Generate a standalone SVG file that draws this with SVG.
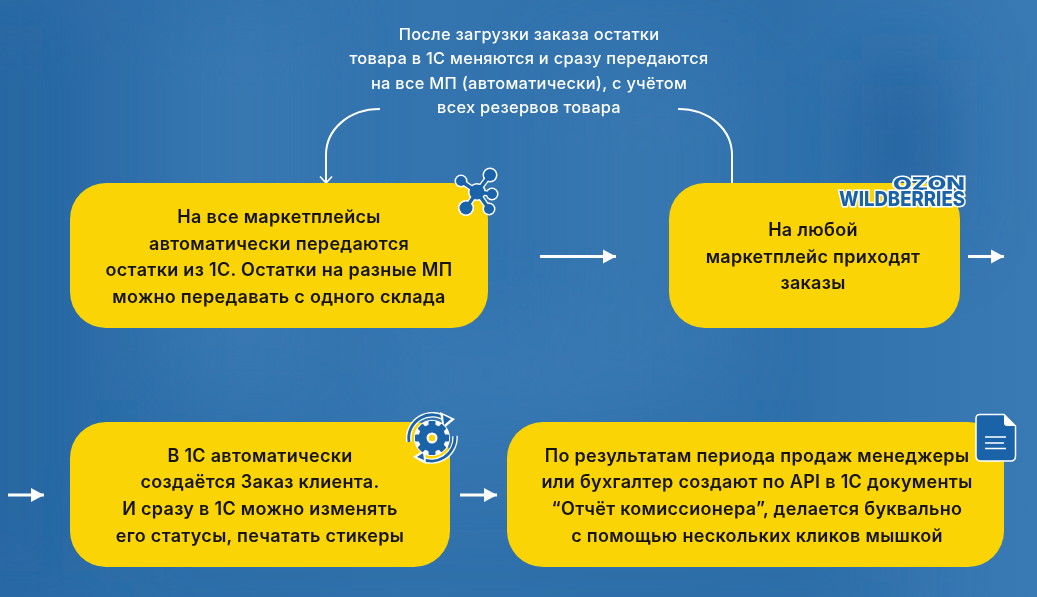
<svg xmlns="http://www.w3.org/2000/svg" width="1037" height="597" viewBox="0 0 1037 597">
<style>
.box{fill:#fbd405}
.t{font-family:Inter,"Open Sans","Liberation Sans",sans-serif;font-weight:600;text-anchor:middle;font-size:18px;letter-spacing:.3px;fill:#141414}
.w{fill:#fff;font-size:16.4px;font-weight:500}
.c{fill:none;stroke:#fff;stroke-width:2}
.a{fill:none;stroke:#fff;stroke-width:3}
.ic{fill:#1a63a8}
.io{fill:#fff}
.il{fill:none;stroke:#fff;stroke-width:6;stroke-linecap:round}
.il2{fill:none;stroke:#1a63a8;stroke-width:3.4;stroke-linecap:round}
.logo{font-family:Inter,"Liberation Sans",sans-serif;font-weight:800;text-anchor:middle;fill:#1a63a8;stroke:#fff;stroke-width:3;paint-order:stroke}
</style>
<defs>
<marker id="tip" viewBox="0 0 14 16" markerUnits="userSpaceOnUse" markerWidth="14" markerHeight="16" refX="13" refY="8" orient="auto" overflow="visible"><path d="M0 1L13 8L0 15z" fill="#fff"/></marker>
<marker id="open" viewBox="0 0 14 14" markerUnits="userSpaceOnUse" markerWidth="14" markerHeight="14" refX="8" refY="7" orient="auto"><path d="M1.5 1L8 7L1.5 13" fill="none" stroke="#fff" stroke-width="1.6"/></marker>
<linearGradient id="bg" x1="0" y1="0" x2="1" y2="0"><stop offset="0" stop-color="#2a6ba6"/><stop offset=".4" stop-color="#3475b0"/><stop offset=".75" stop-color="#2f70ab"/><stop offset="1" stop-color="#3a7ab4"/></linearGradient>
<filter id="blur" x="-40%" y="-40%" width="180%" height="180%"><feGaussianBlur stdDeviation="40"/></filter>
</defs>
<rect id="background" width="1037" height="597" fill="url(#bg)"/>
<g id="background-blur" filter="url(#blur)">
<rect x="170" y="0" width="150" height="400" fill="#3d7db6" opacity=".6"/>
<rect x="860" y="60" width="80" height="170" fill="#1f5f9b" opacity=".8"/>
<rect x="-40" y="0" width="110" height="597" fill="#1f62a0" opacity=".5"/>
<rect x="560" y="60" width="170" height="340" fill="#3d7cb5" opacity=".5"/>
<rect x="400" y="330" width="220" height="90" fill="#4582ba" opacity=".35"/>
<rect x="100" y="530" width="800" height="90" fill="#2a6ba6" opacity=".5"/>
</g>
<g id="connectors">
<path class="c" d="M380 109C348 109 326 130 326 155V183" marker-end="url(#open)"/>
<path class="c" d="M678 109C710 109 732 130 732 155V184"/>
<line class="a" x1="540" y1="256.5" x2="616" y2="256.5" marker-end="url(#tip)"/>
<line class="a" x1="968" y1="256.5" x2="1004" y2="256.5" marker-end="url(#tip)"/>
<line class="a" x1="8" y1="495" x2="44" y2="495" marker-end="url(#tip)"/>
<line class="a" x1="460" y1="495" x2="497" y2="495" marker-end="url(#tip)"/>
</g>
<g id="note">
<text class="t w" x="529" y="39.5">После загрузки заказа остатки</text>
<text class="t w" x="529" y="64">товара в 1С меняются и сразу передаются</text>
<text class="t w" x="529" y="88.5">на все МП (автоматически), с учётом</text>
<text class="t w" x="529" y="112.5">всех резервов товара</text>
</g>
<g id="node-stock">
<rect class="box" x="70" y="183" width="418" height="145" rx="36"/>
<text class="t" x="279" y="223">На все маркетплейсы</text>
<text class="t" x="279" y="250">автоматически передаются</text>
<text class="t" x="279" y="276">остатки из 1С. Остатки на разные МП</text>
<text class="t" x="279" y="303">можно передавать с одного склада</text>
<g id="icon-network">
<path class="il" d="M477 192L461 181M477 192L490 175M477 192L492 194M477 192L466 208M477 192L489 209"/>
<circle class="io" cx="461" cy="181" r="6.5"/><circle class="io" cx="490" cy="175" r="7.5"/><circle class="io" cx="492" cy="194" r="6.5"/><circle class="io" cx="466" cy="208" r="8"/><circle class="io" cx="489" cy="209" r="6.5"/><circle class="io" cx="477" cy="192" r="9"/>
<path class="il2" d="M477 192L461 181M477 192L490 175M477 192L492 194M477 192L466 208M477 192L489 209"/>
<circle class="ic" cx="461" cy="181" r="5"/><circle class="ic" cx="490" cy="175" r="6"/><circle class="ic" cx="492" cy="194" r="5"/><circle class="ic" cx="466" cy="208" r="6.5"/><circle class="ic" cx="489" cy="209" r="5"/><circle class="ic" cx="477" cy="192" r="7.5"/>
</g>
</g>
<g id="node-orders">
<rect class="box" x="669" y="183" width="291" height="145" rx="36"/>
<text class="t" x="813" y="236">На любой</text>
<text class="t" x="813" y="263">маркетплейс приходят</text>
<text class="t" x="813" y="289">заказы</text>
<g id="icon-logos">
<text class="logo" x="929" y="190" font-size="18" textLength="72" lengthAdjust="spacingAndGlyphs">OZON</text>
<text class="logo" x="902" y="206" font-size="20" textLength="126" lengthAdjust="spacingAndGlyphs">WILDBERRIES</text>
</g>
</g>
<g id="node-client-order">
<rect class="box" x="70" y="422" width="380" height="145" rx="36"/>
<text class="t" x="260" y="462">В 1С автоматически</text>
<text class="t" x="260" y="488">создаётся Заказ клиента.</text>
<text class="t" x="260" y="515">И сразу в 1С можно изменять</text>
<text class="t" x="260" y="542">его статусы, печатать стикеры</text>
<g id="icon-gear">
<path d="M409 442A23.5 23.5 0 0 1 447 420" fill="none" stroke="#fff" stroke-width="5.5"/>
<path d="M409 442A23.5 23.5 0 0 1 447 420" fill="none" stroke="#1a63a8" stroke-width="2.8"/>
<path class="io" d="M440 412L455 419L443 429z"/><path class="ic" d="M443 415L451 419L444 425z"/>
<path d="M455 436A23.5 23.5 0 0 1 420 458" fill="none" stroke="#fff" stroke-width="5.5"/>
<path d="M455 436A23.5 23.5 0 0 1 420 458" fill="none" stroke="#1a63a8" stroke-width="2.8"/>
<path class="io" d="M425 449L413 457L426 464z"/><path class="ic" d="M423 453L417 457L424 460z"/>
<circle cx="432" cy="438" r="18" fill="#fff"/>
<g fill="#1a63a8">
<circle cx="432" cy="438" r="13.5"/>
<rect x="428.5" y="421" width="7" height="34" rx="1"/>
<rect x="428.5" y="421" width="7" height="34" rx="1" transform="rotate(45 432 438)"/>
<rect x="428.5" y="421" width="7" height="34" rx="1" transform="rotate(90 432 438)"/>
<rect x="428.5" y="421" width="7" height="34" rx="1" transform="rotate(135 432 438)"/>
</g>
<circle cx="432" cy="438" r="5.5" fill="#fff"/>
<circle cx="432" cy="438" r="3.2" fill="#fbd405"/>
</g>
</g>
<g id="node-report">
<rect class="box" x="507" y="422" width="497" height="145" rx="36"/>
<text class="t" x="757" y="462">По результатам периода продаж менеджеры</text>
<text class="t" x="757" y="488">или бухгалтер создают по API в 1С документы</text>
<text class="t" x="757" y="515">“Отчёт комиссионера”, делается буквально</text>
<text class="t" x="757" y="542">с помощью нескольких кликов мышкой</text>
<g id="icon-doc">
<path d="M980 414.5H1004L1015.5 426V456Q1015.5 461 1010.5 461H981Q976 461 976 456V418.5Q976 414.5 980 414.5z" fill="#1a63a8" stroke="#fff" stroke-width="1.5"/>
<path d="M1004 414.5V423Q1004 426 1007 426H1015.5z" fill="#fff"/>
<path d="M985 437H1006M985 443H1004M985 448.5H1006" stroke="#fff" stroke-width="1.5" fill="none"/>
</g>
</g>
</svg>
